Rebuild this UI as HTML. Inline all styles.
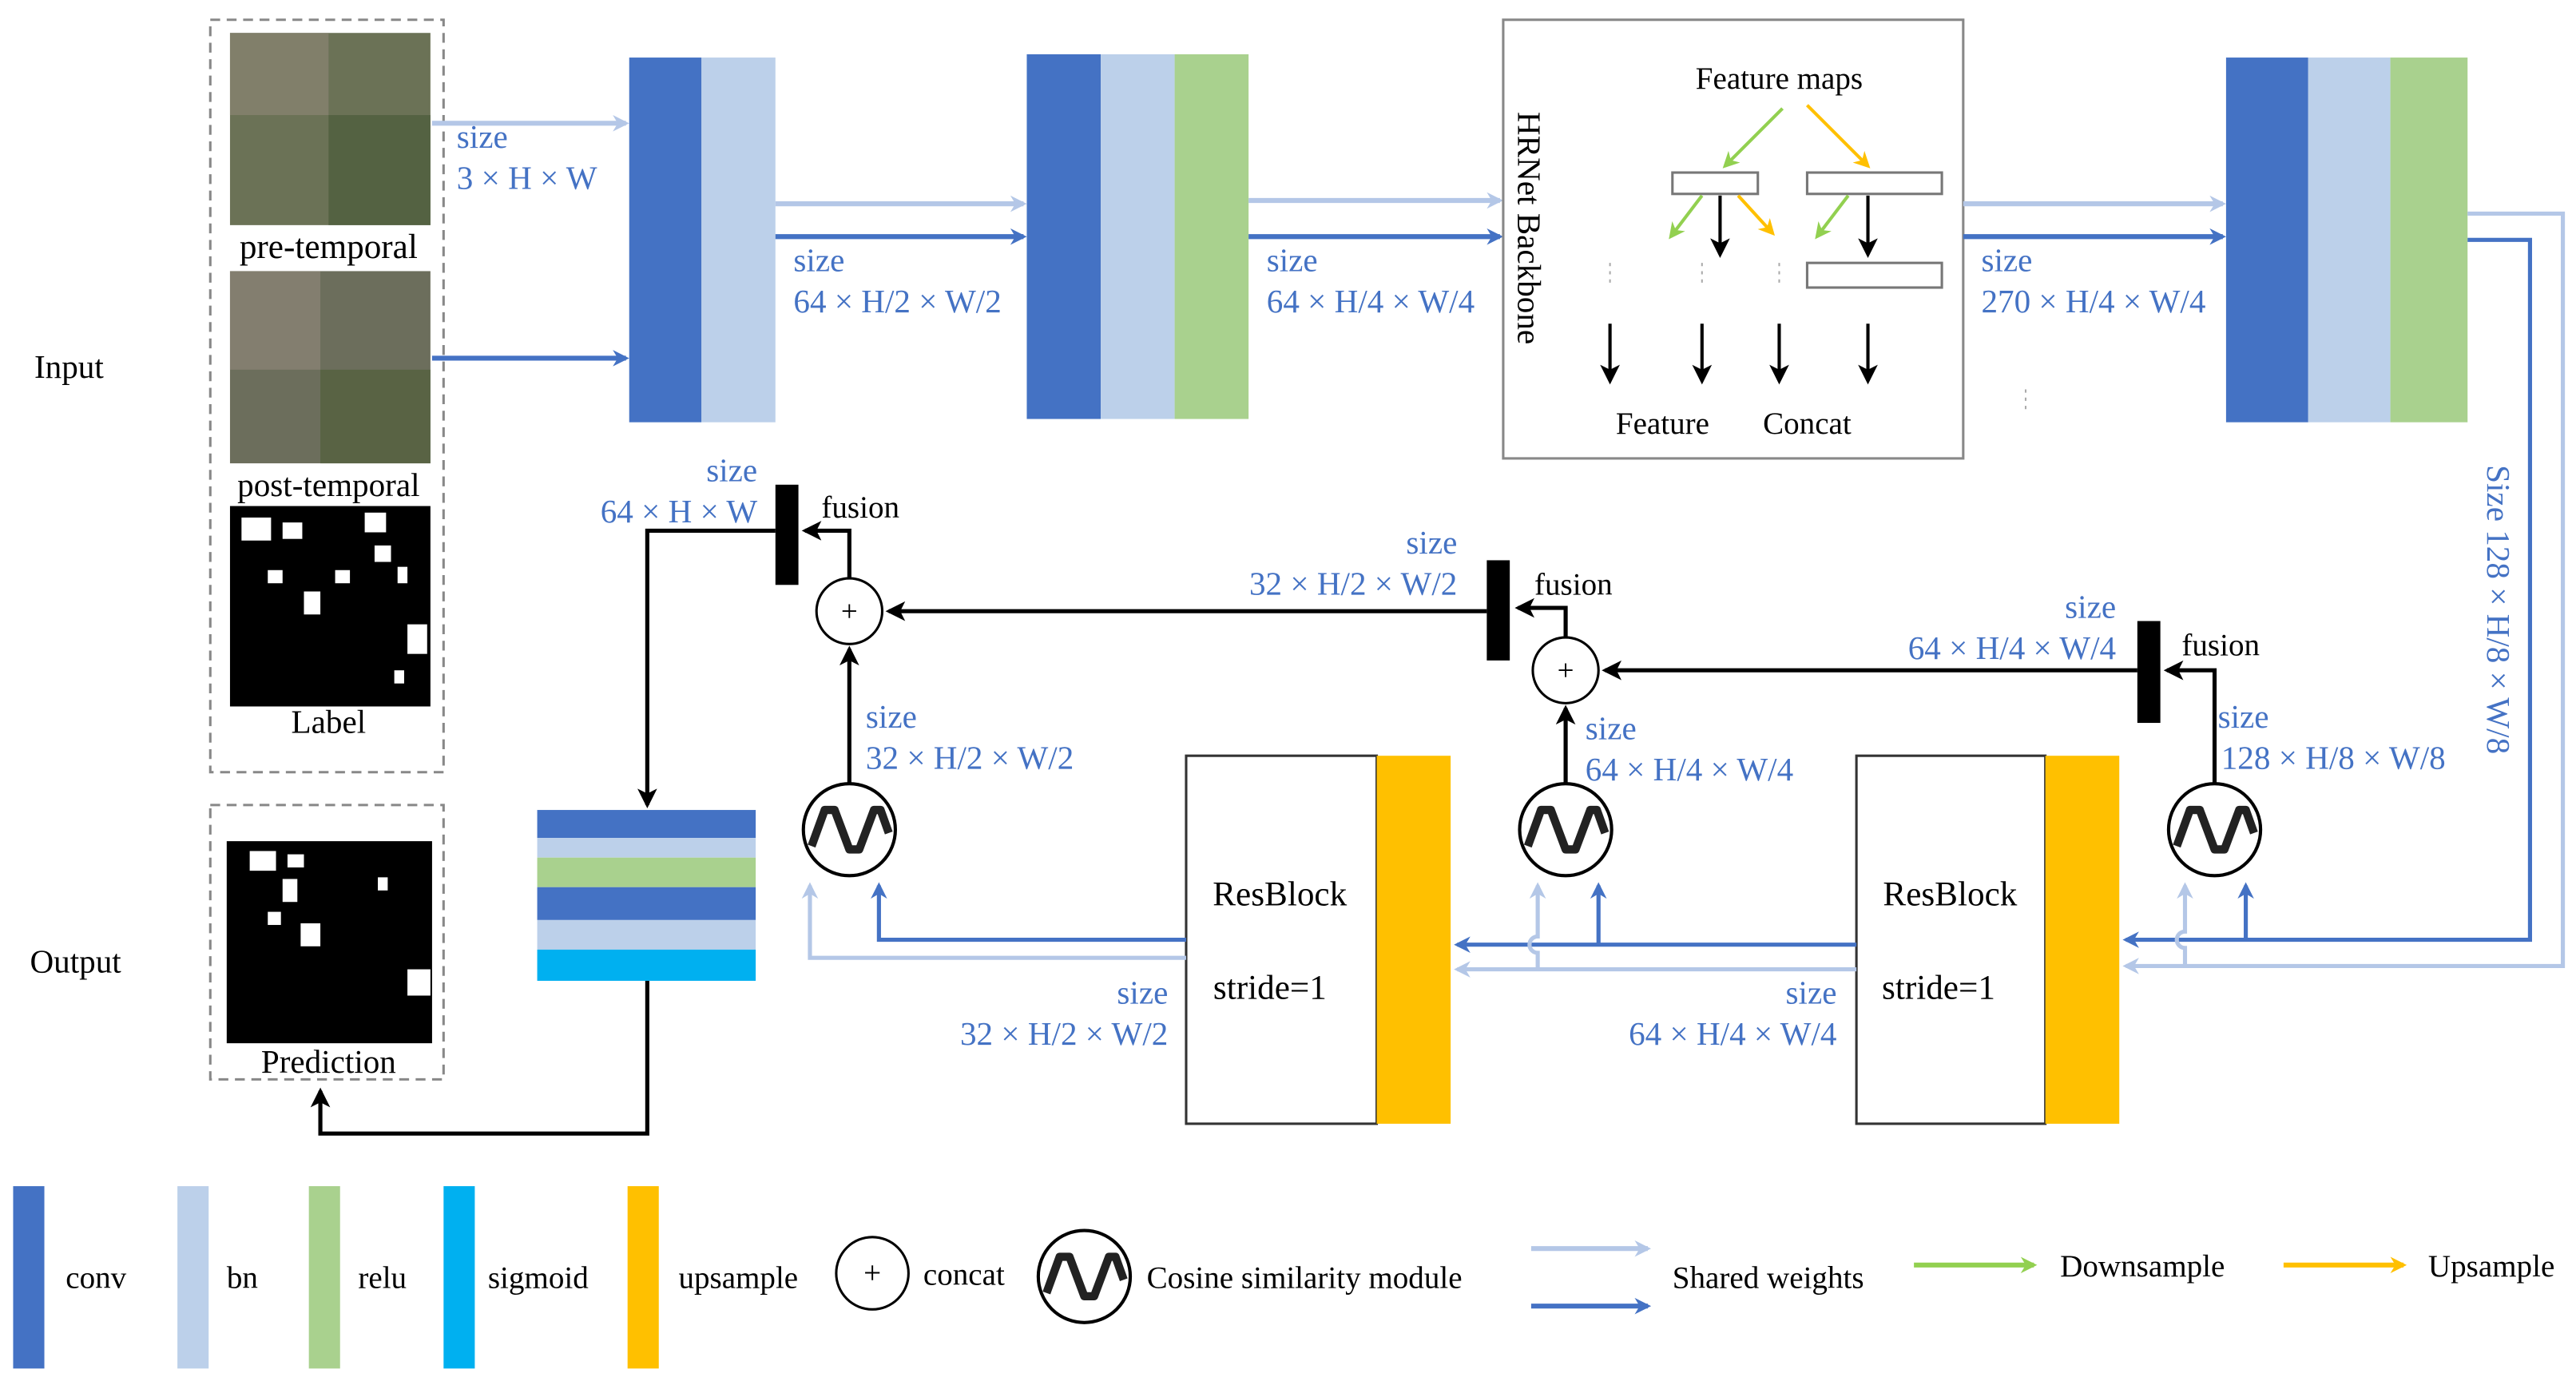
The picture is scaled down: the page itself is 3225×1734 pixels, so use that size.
<!DOCTYPE html>
<html><head><meta charset="utf-8"><style>
html,body{margin:0;padding:0;background:#fff;}
svg{display:block;}
text{font-family:"Liberation Serif",serif;}
.b{fill:#4472C4;font-size:20px;}
.k{fill:#000;font-size:19px;}
</style></head><body>
<svg width="3225" height="1734" viewBox="0 0 1568 843" xmlns="http://www.w3.org/2000/svg">
<defs>
<marker id="ad" markerWidth="10" markerHeight="10" refX="8" refY="5" orient="auto" markerUnits="userSpaceOnUse"><path d="M0,0 L10,5 L0,10 L3,5z" fill="#4472C4"/></marker>
<marker id="al" markerWidth="10" markerHeight="10" refX="8" refY="5" orient="auto" markerUnits="userSpaceOnUse"><path d="M0,0 L10,5 L0,10 L3,5z" fill="#B4C7E7"/></marker>
<marker id="ak" markerWidth="12" markerHeight="12" refX="10" refY="6" orient="auto" markerUnits="userSpaceOnUse"><path d="M0,0 L12,6 L0,12 L3,6z" fill="#000"/></marker>
<marker id="ag" markerWidth="10" markerHeight="10" refX="8" refY="5" orient="auto" markerUnits="userSpaceOnUse"><path d="M0,0 L10,5 L0,10 L3,5z" fill="#92D050"/></marker>
<marker id="ay" markerWidth="10" markerHeight="10" refX="8" refY="5" orient="auto" markerUnits="userSpaceOnUse"><path d="M0,0 L10,5 L0,10 L3,5z" fill="#FFC000"/></marker>
<g id="cos"><circle r="28" fill="#fff" stroke="#000" stroke-width="2"/><path d="M-23,10 L-15,-12 L-9,-12 L0,12 L6,12 L15,-12 L19,-12 L24,2" fill="none" stroke="#222" stroke-width="5" stroke-linejoin="round"/></g>
<g id="plus"><circle r="20" fill="#fff" stroke="#000" stroke-width="1.5"/><text x="0" y="6" text-anchor="middle" style="font-size:18px">+</text></g>
</defs>

<rect x="128" y="12" width="142" height="458" fill="none" stroke="#888" stroke-dasharray="6,4" stroke-width="1.5"/>
<rect x="128" y="490" width="142" height="167" fill="none" stroke="#888" stroke-dasharray="6,4" stroke-width="1.5"/>
<rect x="140" y="20" width="122" height="117" fill="#6b7256"/>
<rect x="140" y="20" width="60" height="50" fill="#8a8574" opacity="0.7"/>
<rect x="200" y="70" width="62" height="67" fill="#4f5e3d" opacity="0.8"/>
<rect x="140" y="165" width="122" height="117" fill="#6c6e5c"/>
<rect x="140" y="165" width="55" height="60" fill="#8d8478" opacity="0.7"/>
<rect x="195" y="225" width="67" height="57" fill="#55603f" opacity="0.8"/>
<rect x="140" y="308" width="122" height="122" fill="#000"/>
<g fill="#fff"><rect x="147" y="315" width="18" height="14"/><rect x="172" y="318" width="12" height="10"/><rect x="222" y="312" width="13" height="12"/><rect x="228" y="332" width="10" height="10"/><rect x="204" y="347" width="9" height="8"/><rect x="163" y="347" width="9" height="8"/><rect x="185" y="360" width="10" height="14"/><rect x="242" y="345" width="6" height="10"/><rect x="248" y="380" width="12" height="18"/><rect x="240" y="408" width="6" height="8"/></g>
<rect x="138" y="512" width="125" height="123" fill="#000"/>
<g fill="#fff"><rect x="152" y="518" width="16" height="12"/><rect x="175" y="520" width="10" height="8"/><rect x="172" y="535" width="9" height="14"/><rect x="163" y="555" width="8" height="8"/><rect x="183" y="562" width="12" height="14"/><rect x="230" y="534" width="6" height="8"/><rect x="248" y="590" width="14" height="16"/></g>
<text class="k" x="200" y="157" text-anchor="middle" style="font-size:21px">pre-temporal</text>
<text class="k" x="200" y="302" text-anchor="middle" style="font-size:20px">post-temporal</text>
<text class="k" x="200" y="446" text-anchor="middle" style="font-size:20px">Label</text>
<text class="k" x="200" y="653" text-anchor="middle" style="font-size:20px">Prediction</text>
<text class="k" x="42" y="230" text-anchor="middle" style="font-size:20px">Input</text>
<text class="k" x="46" y="592" text-anchor="middle" style="font-size:20px">Output</text>

<rect x="383" y="35" width="44" height="222" fill="#4472C4"/><rect x="427" y="35" width="45" height="222" fill="#BCD0EA"/>
<line x1="263" y1="75" x2="381" y2="75" stroke="#B4C7E7" stroke-width="3" marker-end="url(#al)"/>
<line x1="263" y1="218" x2="381" y2="218" stroke="#4472C4" stroke-width="3" marker-end="url(#ad)"/>
<text class="b" x="278" y="90">size</text><text class="b" x="278" y="115">3 × H × W</text>
<rect x="625" y="33" width="45" height="222" fill="#4472C4"/><rect x="670" y="33" width="45" height="222" fill="#BCD0EA"/><rect x="715" y="33" width="45" height="222" fill="#A9D18E"/>
<line x1="472" y1="124" x2="623" y2="124" stroke="#B4C7E7" stroke-width="3" marker-end="url(#al)"/>
<line x1="472" y1="144" x2="623" y2="144" stroke="#4472C4" stroke-width="3" marker-end="url(#ad)"/>
<text class="b" x="483" y="165">size</text><text class="b" x="483" y="190">64 × H/2 × W/2</text>
<line x1="760" y1="122" x2="913" y2="122" stroke="#B4C7E7" stroke-width="3" marker-end="url(#al)"/>
<line x1="760" y1="144" x2="913" y2="144" stroke="#4472C4" stroke-width="3" marker-end="url(#ad)"/>
<text class="b" x="771" y="165">size</text><text class="b" x="771" y="190">64 × H/4 × W/4</text>
<rect x="915" y="12" width="280" height="267" fill="#fff" stroke="#888" stroke-width="1.5"/>
<text class="k" x="0" y="0" transform="translate(924,68) rotate(90)" style="font-size:20px">HRNet Backbone</text>
<text class="k" x="1083" y="54" text-anchor="middle" style="font-size:19px">Feature maps</text>
<line x1="1085" y1="66" x2="1050" y2="101" stroke="#92D050" stroke-width="2" marker-end="url(#ag)"/>
<line x1="1100" y1="64" x2="1137" y2="101" stroke="#FFC000" stroke-width="2" marker-end="url(#ay)"/>
<rect x="1018" y="105" width="52" height="13" fill="#fff" stroke="#777" stroke-width="1.5"/>
<rect x="1100" y="105" width="82" height="13" fill="#fff" stroke="#777" stroke-width="1.5"/>
<rect x="1100" y="160" width="82" height="15" fill="#fff" stroke="#777" stroke-width="1.5"/>
<line x1="1036" y1="119" x2="1017" y2="144" stroke="#92D050" stroke-width="2" marker-end="url(#ag)"/>
<line x1="1047" y1="119" x2="1047" y2="155" stroke="#000" stroke-width="2" marker-end="url(#ak)"/>
<line x1="1058" y1="119" x2="1079" y2="142" stroke="#FFC000" stroke-width="2" marker-end="url(#ay)"/>
<line x1="1125" y1="119" x2="1106" y2="144" stroke="#92D050" stroke-width="2" marker-end="url(#ag)"/>
<line x1="1137" y1="119" x2="1137" y2="155" stroke="#000" stroke-width="2" marker-end="url(#ak)"/>
<g stroke="#aaa" stroke-dasharray="2,3"><line x1="980" y1="160" x2="980" y2="175"/><line x1="1036" y1="160" x2="1036" y2="175"/><line x1="1083" y1="160" x2="1083" y2="175"/><line x1="1233" y1="237" x2="1233" y2="250"/></g>
<g stroke="#000" stroke-width="2"><line x1="980" y1="197" x2="980" y2="232" marker-end="url(#ak)"/><line x1="1036" y1="197" x2="1036" y2="232" marker-end="url(#ak)"/><line x1="1083" y1="197" x2="1083" y2="232" marker-end="url(#ak)"/><line x1="1137" y1="197" x2="1137" y2="232" marker-end="url(#ak)"/></g>
<text class="k" x="1012" y="264" text-anchor="middle">Feature</text><text class="k" x="1100" y="264" text-anchor="middle">Concat</text>
<line x1="1195" y1="124" x2="1353" y2="124" stroke="#B4C7E7" stroke-width="3" marker-end="url(#al)"/>
<line x1="1195" y1="144" x2="1353" y2="144" stroke="#4472C4" stroke-width="3" marker-end="url(#ad)"/>
<text class="b" x="1206" y="165">size</text><text class="b" x="1206" y="190">270 × H/4 × W/4</text>
<rect x="1355" y="35" width="50" height="222" fill="#4472C4"/><rect x="1405" y="35" width="50" height="222" fill="#BCD0EA"/><rect x="1455" y="35" width="47" height="222" fill="#A9D18E"/>
<polyline points="1502,130 1560,130 1560,588 1294,588" fill="none" stroke="#B4C7E7" stroke-width="2.5" marker-end="url(#al)"/>
<polyline points="1502,146 1540,146 1540,572 1294,572" fill="none" stroke="#4472C4" stroke-width="2.5" marker-end="url(#ad)"/>
<text class="b" x="0" y="0" transform="translate(1514,283) rotate(90)">Size 128 × H/8 × W/8</text>
<line x1="1367" y1="572" x2="1367" y2="539" stroke="#4472C4" stroke-width="2.5" marker-end="url(#ad)"/>
<path d="M1330,588 L1330,577 A5,5 0 0 1 1330,567 L1330,539" fill="none" stroke="#B4C7E7" stroke-width="2.5" marker-end="url(#al)"/>
<rect x="1130" y="460" width="115" height="224" fill="#fff" stroke="#333" stroke-width="1.5"/><rect x="1245" y="460" width="45" height="224" fill="#FFC000"/>
<text class="k" x="1187" y="551" text-anchor="middle" style="font-size:21px">ResBlock</text><text class="k" x="1180" y="608" text-anchor="middle" style="font-size:21px">stride=1</text>
<use href="#cos" x="1348" y="505"/>
<polyline points="1348,477 1348,408 1319,408" fill="none" stroke="#000" stroke-width="2.5" marker-end="url(#ak)"/>
<rect x="1301" y="378" width="14" height="62" fill="#000"/>
<text class="k" x="1328" y="399">fusion</text>
<text class="b" x="1288" y="376" text-anchor="end">size</text><text class="b" x="1288" y="401" text-anchor="end">64 × H/4 × W/4</text>
<text class="b" x="1350" y="443">size</text><text class="b" x="1352" y="468">128 × H/8 × W/8</text>
<line x1="1301" y1="408" x2="977" y2="408" stroke="#000" stroke-width="2.5" marker-end="url(#ak)"/>
<use href="#plus" x="953" y="408"/>
<polyline points="953,388 953,370 924,370" fill="none" stroke="#000" stroke-width="2.5" marker-end="url(#ak)"/>
<rect x="905" y="341" width="14" height="61" fill="#000"/>
<text class="k" x="934" y="362">fusion</text>
<text class="b" x="887" y="337" text-anchor="end">size</text><text class="b" x="887" y="362" text-anchor="end">32 × H/2 × W/2</text>
<use href="#cos" x="953" y="505"/>
<line x1="953" y1="477" x2="953" y2="431" stroke="#000" stroke-width="2.5" marker-end="url(#ak)"/>
<text class="b" x="965" y="450">size</text><text class="b" x="965" y="475">64 × H/4 × W/4</text>
<line x1="1130" y1="575" x2="887" y2="575" stroke="#4472C4" stroke-width="2.5" marker-end="url(#ad)"/>
<line x1="1130" y1="590" x2="887" y2="590" stroke="#B4C7E7" stroke-width="2.5" marker-end="url(#al)"/>
<line x1="973" y1="575" x2="973" y2="539" stroke="#4472C4" stroke-width="2.5" marker-end="url(#ad)"/>
<path d="M936,590 L936,580 A5,5 0 0 1 936,570 L936,539" fill="none" stroke="#B4C7E7" stroke-width="2.5" marker-end="url(#al)"/>
<text class="b" x="1118" y="611" text-anchor="end">size</text><text class="b" x="1118" y="636" text-anchor="end">64 × H/4 × W/4</text>
<rect x="722" y="460" width="116" height="224" fill="#fff" stroke="#333" stroke-width="1.5"/><rect x="838" y="460" width="45" height="224" fill="#FFC000"/>
<text class="k" x="779" y="551" text-anchor="middle" style="font-size:21px">ResBlock</text><text class="k" x="773" y="608" text-anchor="middle" style="font-size:21px">stride=1</text>
<polyline points="722,572 535,572 535,539" fill="none" stroke="#4472C4" stroke-width="2.5" marker-end="url(#ad)"/>
<polyline points="722,583 493,583 493,539" fill="none" stroke="#B4C7E7" stroke-width="2.5" marker-end="url(#al)"/>
<text class="b" x="711" y="611" text-anchor="end">size</text><text class="b" x="711" y="636" text-anchor="end">32 × H/2 × W/2</text>
<use href="#cos" x="517" y="505"/>
<line x1="517" y1="477" x2="517" y2="395" stroke="#000" stroke-width="2.5" marker-end="url(#ak)"/>
<text class="b" x="527" y="443">size</text><text class="b" x="527" y="468">32 × H/2 × W/2</text>
<line x1="905" y1="372" x2="541" y2="372" stroke="#000" stroke-width="2.5" marker-end="url(#ak)"/>
<use href="#plus" x="517" y="372"/>
<polyline points="517,352 517,323 490,323" fill="none" stroke="#000" stroke-width="2.5" marker-end="url(#ak)"/>
<rect x="472" y="295" width="14" height="61" fill="#000"/>
<text class="k" x="500" y="315">fusion</text>
<text class="b" x="461" y="293" text-anchor="end">size</text><text class="b" x="461" y="318" text-anchor="end">64 × H × W</text>
<polyline points="472,323 394,323 394,490" fill="none" stroke="#000" stroke-width="2.5" marker-end="url(#ak)"/>
<rect x="327" y="493" width="133" height="17" fill="#4472C4"/><rect x="327" y="510" width="133" height="12" fill="#BCD0EA"/><rect x="327" y="522" width="133" height="18" fill="#A9D18E"/><rect x="327" y="540" width="133" height="20" fill="#4472C4"/><rect x="327" y="560" width="133" height="18" fill="#BCD0EA"/><rect x="327" y="578" width="133" height="19" fill="#00B0F0"/>
<polyline points="394,597 394,690 195,690 195,664" fill="none" stroke="#000" stroke-width="2.5" marker-end="url(#ak)"/>
<rect x="8" y="722" width="19" height="111" fill="#4472C4"/><text class="k" x="40" y="784">conv</text>
<rect x="108" y="722" width="19" height="111" fill="#BCD0EA"/><text class="k" x="138" y="784">bn</text>
<rect x="188" y="722" width="19" height="111" fill="#A9D18E"/><text class="k" x="218" y="784">relu</text>
<rect x="270" y="722" width="19" height="111" fill="#00B0F0"/><text class="k" x="297" y="784">sigmoid</text>
<rect x="382" y="722" width="19" height="111" fill="#FFC000"/><text class="k" x="413" y="784">upsample</text>
<g transform="translate(531,775)"><circle r="22" fill="#fff" stroke="#000" stroke-width="1.5"/><text x="0" y="6" text-anchor="middle" style="font-size:19px">+</text></g>
<text class="k" x="562" y="782">concat</text>
<use href="#cos" x="660" y="777"/>
<text class="k" x="698" y="784">Cosine similarity module</text>
<line x1="932" y1="760" x2="1003" y2="760" stroke="#B4C7E7" stroke-width="3" marker-end="url(#al)"/>
<line x1="932" y1="795" x2="1003" y2="795" stroke="#4472C4" stroke-width="3" marker-end="url(#ad)"/>
<text class="k" x="1018" y="784">Shared weights</text>
<line x1="1165" y1="770" x2="1238" y2="770" stroke="#92D050" stroke-width="3" marker-end="url(#ag)"/>
<text class="k" x="1254" y="777">Downsample</text>
<line x1="1390" y1="770" x2="1463" y2="770" stroke="#FFC000" stroke-width="3" marker-end="url(#ay)"/>
<text class="k" x="1478" y="777">Upsample</text>
</svg>
</body></html>
